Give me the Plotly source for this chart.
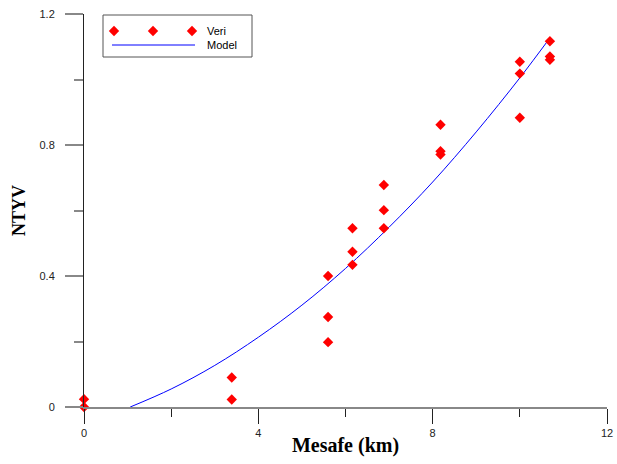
import plotly.graph_objects as go

# Observed data (Veri)
veri_x = [0, 0, 3.39, 3.39, 5.60, 5.60, 5.60, 6.16, 6.16, 6.16, 6.88, 6.88, 6.88,
          8.18, 8.18, 8.18, 10.0, 10.0, 10.0, 10.69, 10.69, 10.69]
veri_y = [0.0, 0.024, 0.090, 0.023, 0.400, 0.275, 0.198, 0.546, 0.474, 0.434,
          0.678, 0.601, 0.546, 0.862, 0.781, 0.771, 1.054, 1.018, 0.883,
          1.117, 1.070, 1.060]

# Model curve
model_x = [1.06, 2, 3, 4, 5, 6, 7, 8, 9, 10, 10.69]
model_y = [0.0, 0.055, 0.127, 0.213, 0.311, 0.423, 0.549, 0.687, 0.840, 1.005, 1.127]

x_ticks = [0, 4, 8, 12]
y_ticks = [0, 0.4, 0.8, 1.2]
y_tick_text = ["0", "0.4", "0.8", "1.2"]

legend_names = ["Veri", "Model"]

fig = go.Figure()
fig.add_trace(go.Scatter(x=model_x, y=model_y, mode="lines", line_shape="spline",
                         line=dict(color="#0000ff", width=1), name="Model",
                         showlegend=False))
fig.add_trace(go.Scatter(x=veri_x, y=veri_y, mode="markers", cliponaxis=False,
                         marker=dict(symbol="diamond", size=8, color="#ff0000"),
                         name="Veri", showlegend=False))

# custom legend drawn in a pixel-like overlay axis (x2/y2)
L = dict(x0=103, y0=15, x1=252, y1=57, mk_x=[114, 153, 192], mk_y=31,
         ln_x=[112, 195], ln_y=45, tx=205)
fig.add_trace(go.Scatter(x=L["mk_x"], y=[L["mk_y"]] * 3, xaxis="x2", yaxis="y2",
                         mode="markers", cliponaxis=False, showlegend=False,
                         marker=dict(symbol="diamond", size=8, color="#ff0000"),
                         hoverinfo="skip"))
fig.add_trace(go.Scatter(x=L["ln_x"], y=[L["ln_y"]] * 2, xaxis="x2", yaxis="y2",
                         mode="lines", cliponaxis=False, showlegend=False,
                         line=dict(color="#0000ff", width=1), hoverinfo="skip"))
fig.add_shape(type="rect", xref="x2", yref="y2", x0=L["x0"], y0=L["y0"],
              x1=L["x1"], y1=L["y1"], line=dict(color="#555555", width=1),
              fillcolor="rgba(0,0,0,0)", layer="above")
for i, name in enumerate(legend_names):
    fig.add_annotation(xref="x2", yref="y2", x=L["tx"], y=L["mk_y"] + 14 * i,
                       text=name, showarrow=False, xanchor="left", yanchor="middle",
                       font=dict(family="Liberation Sans, Arial", size=11, color="#000"))

tick_font = dict(family="Liberation Sans, Arial", size=11, color="#222222")

fig.update_layout(
    width=617, height=464,
    margin=dict(l=84, r=10, t=14, b=57, autoexpand=False),
    plot_bgcolor="white", paper_bgcolor="white",
    xaxis=dict(range=[0, 12], tickvals=x_ticks, ticktext=[str(v) for v in x_ticks],
               automargin=False,
               showgrid=False, zeroline=False, showline=True,
               linecolor="#888888", linewidth=2,
               ticks="outside", ticklen=15, tickwidth=1, tickcolor="#222222",
               minor=dict(tickvals=[2, 6, 10], ticks="outside", ticklen=8,
                          tickwidth=1, tickcolor="#222222", showgrid=False),
               tickfont=tick_font, ticklabelstandoff=0,
               title=dict(text="<b>Mesafe (km)</b>", standoff=0,
                          font=dict(family="Liberation Serif, Times New Roman", size=20, color="#000"))),
    yaxis=dict(range=[0, 1.2], tickvals=y_ticks, ticktext=y_tick_text,
               automargin=False,
               showgrid=False, zeroline=False, showline=True,
               linecolor="#222222", linewidth=1,
               ticks="outside", ticklen=18, tickwidth=2, tickcolor="#888888",
               minor=dict(tickvals=[0.2, 0.6, 1.0], ticks="outside", ticklen=9,
                          tickwidth=2, tickcolor="#888888", showgrid=False),
               tickfont=tick_font, ticklabelstandoff=8,
               title=dict(text="<b>NTYV</b>", standoff=9,
                          font=dict(family="Liberation Serif, Times New Roman", size=18, color="#000"))),
    xaxis2=dict(range=[84, 607], overlaying="x", visible=False, domain=[0, 1]),
    yaxis2=dict(range=[407, 14], overlaying="y", visible=False, domain=[0, 1]),
    showlegend=False,
)

fig.write_html("out.html")
